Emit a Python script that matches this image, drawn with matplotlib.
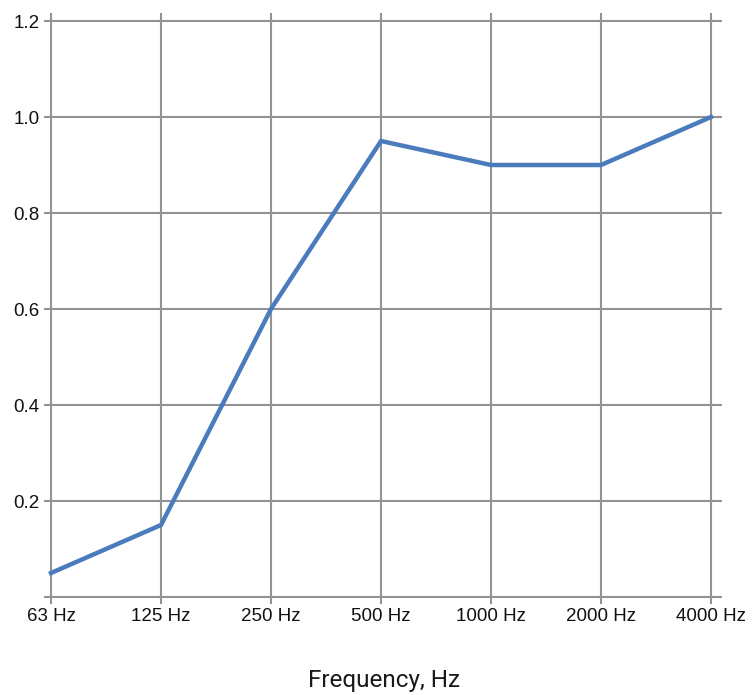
import matplotlib
matplotlib.use('Agg')
import matplotlib.pyplot as plt

freqs = ['63 Hz', '125 Hz', '250 Hz', '500 Hz', '1000 Hz', '2000 Hz', '4000 Hz']
absorption = [0.05, 0.15, 0.6, 0.95, 0.9, 0.9, 1.0]
yticks = [0.0, 0.2, 0.4, 0.6, 0.8, 1.0, 1.2]
ytick_labels = ['', '0.2', '0.4', '0.6', '0.8', '1.0', '1.2']

W, H = 756, 695
fig = plt.figure(figsize=(W / 100, H / 100), dpi=100)
ax = fig.add_axes([44 / W, (H - 604) / H, (722 - 44) / W, (604 - 13) / H])

x = list(range(len(freqs)))
xmin, xmax = -7 / 110, 6 + 11 / 110
ymin, ymax = -7 / 480, 1.2 + 8 / 480

grid_color = '#939393'
for y in yticks:
    ax.plot([xmin, xmax], [y, y], color=grid_color, lw=1.5, zorder=1)
for xi in x:
    ax.plot([xi, xi], [ymin, ymax], color=grid_color, lw=1.5, zorder=1)

ax.plot(x, absorption, color='#4a7cbd', lw=3.2, solid_joinstyle='miter', zorder=3)

ax.set_xlim(xmin, xmax)
ax.set_ylim(ymin, ymax)
for s in ax.spines.values():
    s.set_visible(False)

ax.set_xticks(x)
ax.set_xticklabels(freqs, fontsize=13.5, family='Liberation Sans')
ax.set_yticks(yticks)
ax.set_yticklabels(ytick_labels, fontsize=13.5, family='Liberation Sans')
ax.tick_params(length=0, pad=3, colors='#111111')

fig.text(384 / W, 1 - 680 / H, 'Frequency, Hz', ha='center', va='center',
         fontsize=17.5, family='Roboto', color='#1a1a1a')

fig.savefig('out.png', dpi=100)
